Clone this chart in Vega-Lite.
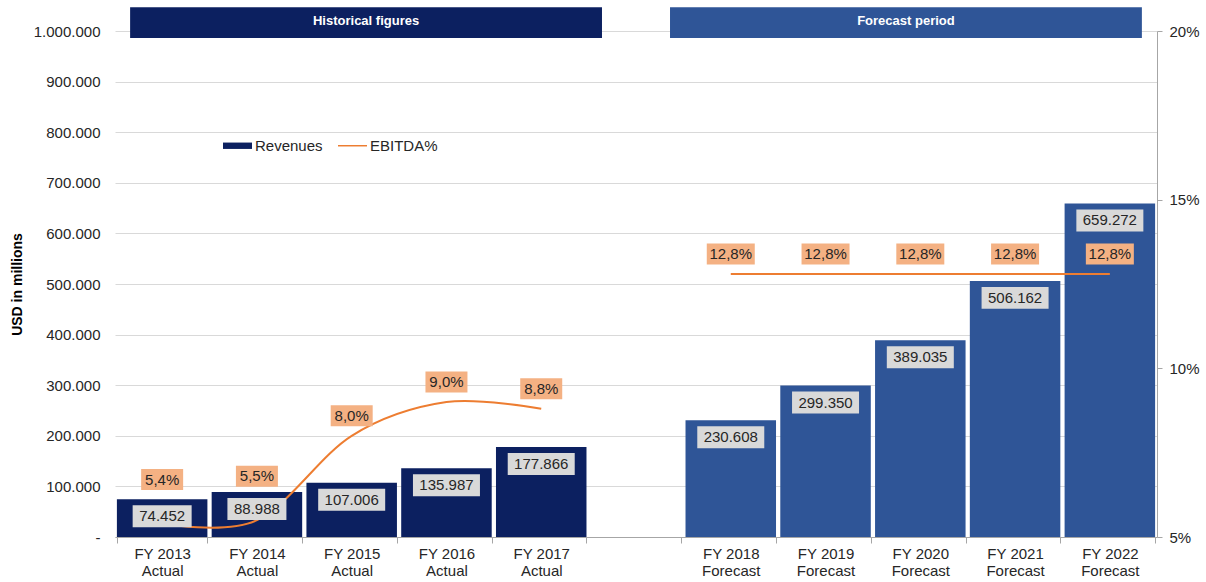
{
  "$schema": "https://vega.github.io/schema/vega-lite/v6.json",
  "width": 1042,
  "height": 506,
  "autosize": {"type": "none"},
  "padding": {"left": 115, "top": 31, "right": 49, "bottom": 45},
  "background": "white",
  "config": {
    "font": "Liberation Sans",
    "view": {"stroke": null},
    "locale": {"number": {"decimal": ",", "thousands": ".", "grouping": [3], "currency": ["", "€"]}},
    "axis": {"labelFont": "Liberation Sans", "titleFont": "Liberation Sans"},
    "legend": {"labelFont": "Liberation Sans"}
  },
  "resolve": {"scale": {"x": "independent", "y": "independent"}},
  "layer": [
    {
      "data": {"values": [
        {"cat": "FY 2013|Actual", "period": "Historical", "revenue": 74452, "ebitda": 0.054},
        {"cat": "FY 2014|Actual", "period": "Historical", "revenue": 88988, "ebitda": 0.055},
        {"cat": "FY 2015|Actual", "period": "Historical", "revenue": 107006, "ebitda": 0.080},
        {"cat": "FY 2016|Actual", "period": "Historical", "revenue": 135987, "ebitda": 0.090},
        {"cat": "FY 2017|Actual", "period": "Historical", "revenue": 177866, "ebitda": 0.088},
        {"cat": "FY 2018|Forecast", "period": "Forecast", "revenue": 230608, "ebitda": 0.128},
        {"cat": "FY 2019|Forecast", "period": "Forecast", "revenue": 299350, "ebitda": 0.128},
        {"cat": "FY 2020|Forecast", "period": "Forecast", "revenue": 389035, "ebitda": 0.128},
        {"cat": "FY 2021|Forecast", "period": "Forecast", "revenue": 506162, "ebitda": 0.128},
        {"cat": "FY 2022|Forecast", "period": "Forecast", "revenue": 659272, "ebitda": 0.128}
      ]},
      "encoding": {
        "x": {
          "field": "cat", "type": "nominal", "sort": null,
          "scale": {
            "domain": ["FY 2013|Actual", "FY 2014|Actual", "FY 2015|Actual", "FY 2016|Actual", "FY 2017|Actual", " ", "FY 2018|Forecast", "FY 2019|Forecast", "FY 2020|Forecast", "FY 2021|Forecast", "FY 2022|Forecast"],
            "paddingInner": 0.045, "paddingOuter": 0.02
          },
          "axis": {
            "title": null, "labelAngle": 0,
            "labelExpr": "split(datum.label, '|')",
            "labelFontSize": 15, "labelColor": "#262626", "labelLineHeight": 17,
            "labelPadding": 3, "tickSize": 6, "tickColor": "#a6a6a6", "domainColor": "#a6a6a6",
            "tickBand": "extent", "grid": false
          }
        }
      },
      "resolve": {"scale": {"y": "independent"}},
      "layer": [
        {
          "mark": {"type": "bar"},
          "encoding": {
            "y": {
              "field": "revenue", "type": "quantitative",
              "scale": {"domain": [0, 1000000], "nice": false, "zero": true},
              "axis": {
                "orient": "left", "title": "USD in millions", "titleFontSize": 14, "titleFontWeight": "bold",
                "titleColor": "#000000", "titlePadding": 9,
                "values": [0, 100000, 200000, 300000, 400000, 500000, 600000, 700000, 800000, 900000, 1000000],
                "format": ",.0f", "labelExpr": "datum.value == 0 ? '-' : datum.label",
                "labelFontSize": 15, "labelColor": "#262626",
                "domain": false, "ticks": false, "tickSize": 0, "labelPadding": 15,
                "grid": true, "gridColor": "#d9d9d9"
              }
            },
            "color": {"condition": {"test": "datum.period === 'Forecast'", "value": "#2F5597"}, "value": "#0C2060"}
          }
        },
        {
          "mark": {"type": "line", "color": "#ED7D31", "strokeWidth": 2, "interpolate": "cardinal"},
          "encoding": {
            "y": {
              "field": "ebitda", "type": "quantitative",
              "scale": {"domain": [0.05, 0.2], "nice": false, "zero": false},
              "axis": {
                "orient": "right", "title": null, "values": [0.05, 0.1, 0.15, 0.2], "format": ".0%",
                "domainColor": "#a6a6a6", "tickColor": "#a6a6a6", "tickSize": 5, "labelPadding": 7,
                "labelFontSize": 15, "labelColor": "#262626", "grid": false
              }
            },
            "detail": {"field": "period"}
          }
        },
        {
          "mark": {"type": "point", "filled": true, "color": "#D9D9D9", "opacity": 1, "yOffset": 17, "strokeWidth": 0},
          "encoding": {
            "y": {"field": "revenue", "type": "quantitative", "scale": {"domain": [0, 1000000], "nice": false}, "axis": null},
            "shape": {"condition": {"test": "datum.revenue < 100000", "value": "M-1,-0.373H1V0.373H-1Z"}, "value": "M-1,-0.328H1V0.328H-1Z"},
            "size": {"condition": {"test": "datum.revenue < 100000", "value": 3481}, "value": 4489}
          }
        },
        {
          "mark": {"type": "text", "dy": 17, "fontSize": 15, "color": "#262626", "baseline": "middle"},
          "encoding": {
            "y": {"field": "revenue", "type": "quantitative", "scale": {"domain": [0, 1000000], "nice": false}, "axis": null},
            "text": {"field": "revenue", "type": "quantitative", "format": ",.0f"}
          }
        },
        {
          "mark": {"type": "point", "filled": true, "color": "#F4B183", "opacity": 1, "strokeWidth": 0, "yOffset": {"expr": "datum.ebitda < 0.06 ? -44 : -20"}},
          "encoding": {
            "y": {"field": "ebitda", "type": "quantitative", "scale": {"domain": [0.05, 0.2], "nice": false, "zero": false}, "axis": null},
            "shape": {"condition": {"test": "datum.ebitda < 0.1", "value": "M-1,-0.5H1V0.5H-1Z"}, "value": "M-1,-0.4375H1V0.4375H-1Z"},
            "size": {"condition": {"test": "datum.ebitda < 0.1", "value": 1764}, "value": 2304}
          }
        },
        {
          "mark": {"type": "text", "dy": {"expr": "datum.ebitda < 0.06 ? -44 : -20"}, "fontSize": 15, "color": "#262626", "baseline": "middle"},
          "encoding": {
            "y": {"field": "ebitda", "type": "quantitative", "scale": {"domain": [0.05, 0.2], "nice": false, "zero": false}, "axis": null},
            "text": {"field": "ebitda", "type": "quantitative", "format": ".1%"}
          }
        }
      ]
    },
    {
      "data": {"values": [
        {"label": "Historical figures", "period": "Historical"},
        {"label": "Forecast period", "period": "Forecast"}
      ]},
      "encoding": {
        "x": {
          "field": "label", "type": "nominal", "sort": null,
          "scale": {"domain": ["Historical figures", "Forecast period"], "paddingInner": 0.126, "paddingOuter": 0.028},
          "axis": null
        }
      },
      "layer": [
        {
          "mark": {"type": "rect"},
          "encoding": {
            "y": {"datum": 1047000, "type": "quantitative", "scale": {"domain": [0, 1000000], "nice": false}, "axis": null},
            "y2": {"datum": 986000},
            "color": {"condition": {"test": "datum.period === 'Forecast'", "value": "#2F5597"}, "value": "#0C2060"}
          }
        },
        {
          "mark": {"type": "text", "color": "white", "fontWeight": "bold", "fontSize": 13, "baseline": "middle"},
          "encoding": {
            "y": {"datum": 1020000, "type": "quantitative", "scale": {"domain": [0, 1000000], "nice": false}, "axis": null},
            "text": {"field": "label"}
          }
        }
      ]
    },
    {
      "data": {"values": [{"series": "Revenues"}, {"series": "EBITDA%"}]},
      "mark": {"type": "point", "filled": true, "opacity": 0},
      "encoding": {
        "color": {
          "field": "series", "type": "nominal", "sort": null,
          "scale": {"domain": ["Revenues", "EBITDA%"], "range": ["#0C2060", "#ED7D31"]},
          "legend": {"title": null, "orient": "none", "legendX": 108, "legendY": 100, "direction": "horizontal",
            "symbolSize": 841, "symbolOpacity": 1, "symbolStrokeWidth": 0, "labelFontSize": 15,
            "labelColor": "#262626", "labelOffset": 3, "columnPadding": 15, "padding": 0}
        },
        "shape": {
          "field": "series", "type": "nominal", "sort": null,
          "scale": {"domain": ["Revenues", "EBITDA%"], "range": ["M-1,-0.22H1V0.22H-1Z", "M-1,-0.05H1V0.05H-1Z"]},
          "legend": {"title": null, "orient": "none", "legendX": 108, "legendY": 100, "direction": "horizontal",
            "symbolSize": 841, "symbolOpacity": 1, "symbolStrokeWidth": 0, "labelFontSize": 15,
            "labelColor": "#262626", "labelOffset": 3, "columnPadding": 15, "padding": 0}
        }
      }
    }
  ]
}
